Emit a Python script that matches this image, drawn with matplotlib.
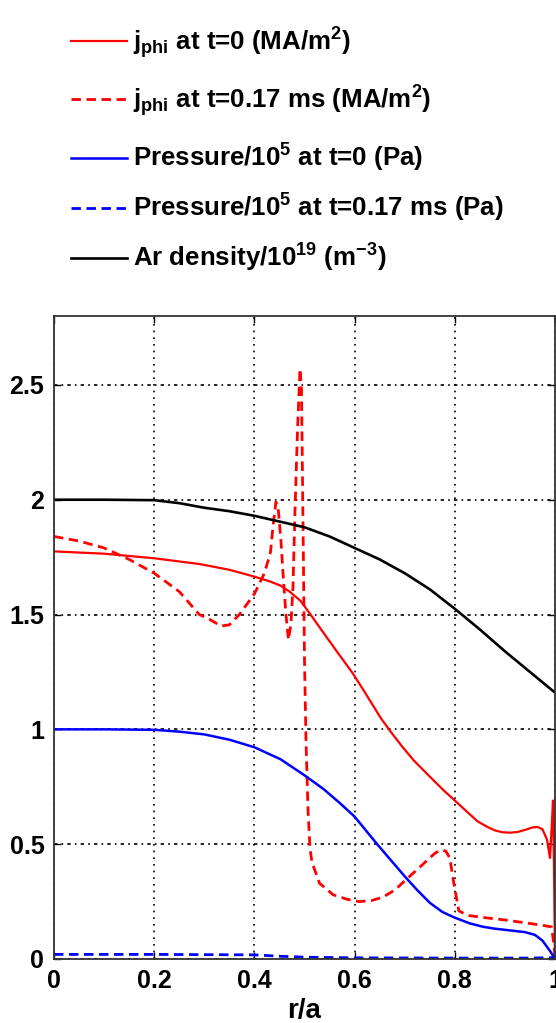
import matplotlib
matplotlib.use("Agg")
import matplotlib.pyplot as plt

# Radial profiles versus normalised minor radius r/a
r_j0 = [0.0, 0.1, 0.2, 0.29, 0.35, 0.4, 0.43, 0.452, 0.47, 0.492, 0.512, 0.538,
        0.566, 0.596, 0.618, 0.652, 0.672, 0.695, 0.718, 0.752, 0.775, 0.8, 0.82,
        0.845, 0.865, 0.88, 0.895, 0.91, 0.925, 0.94, 0.955, 0.965,
        0.975, 0.984, 0.99, 0.994, 0.996, 0.998, 1.0]
j_t0 = [1.775, 1.765, 1.745, 1.72, 1.695, 1.665, 1.645, 1.626, 1.60, 1.56, 1.50, 1.42,
        1.335, 1.245, 1.17, 1.05, 0.99, 0.925, 0.865, 0.79, 0.74, 0.69, 0.65,
        0.60, 0.575, 0.56, 0.552, 0.55, 0.553, 0.562, 0.573, 0.575,
        0.565, 0.52, 0.44, 0.60, 0.69, 0.40, 0.0]

r_j1 = [0.0, 0.05, 0.1, 0.15, 0.2, 0.25, 0.29, 0.31, 0.333, 0.35, 0.37, 0.39, 0.40,
        0.42, 0.432, 0.438, 0.443, 0.448, 0.453, 0.458, 0.463, 0.468, 0.473, 0.477,
        0.481, 0.486, 0.491, 0.494, 0.497, 0.500, 0.503, 0.507, 0.511, 0.515, 0.53,
        0.557, 0.585, 0.61, 0.635, 0.657, 0.68, 0.70, 0.725, 0.745, 0.76, 0.772, 0.782,
        0.79, 0.798, 0.808, 0.825, 0.86, 0.90, 0.965, 0.993, 0.998, 1.0]
j_t1 = [1.84, 1.82, 1.79, 1.74, 1.68, 1.60, 1.50, 1.48, 1.45, 1.455, 1.50, 1.56, 1.59,
        1.68, 1.77, 1.90, 1.99, 1.95, 1.82, 1.65, 1.50, 1.39, 1.46, 1.62,
        1.95, 2.30, 2.57, 2.48, 1.90, 1.30, 0.95, 0.65, 0.48, 0.42, 0.33,
        0.28, 0.26, 0.25, 0.255, 0.27, 0.30, 0.34, 0.39, 0.43, 0.46, 0.475, 0.47,
        0.44, 0.33, 0.21, 0.19, 0.18, 0.17, 0.15, 0.14, 0.06, 0.0]

r_p = [0.0, 0.1, 0.2, 0.25, 0.3, 0.35, 0.4, 0.452, 0.5, 0.538, 0.57, 0.6, 0.645, 0.7,
       0.725, 0.75, 0.775, 0.8, 0.83, 0.857, 0.88, 0.9, 0.94, 0.96, 0.975, 0.99, 1.0]
p_t0 = [1.0, 1.0, 0.998, 0.99, 0.978, 0.955, 0.922, 0.87, 0.80, 0.74, 0.68, 0.62, 0.50,
        0.36, 0.30, 0.245, 0.205, 0.18, 0.155, 0.14, 0.132, 0.127, 0.117, 0.105, 0.08,
        0.035, 0.0]

r_p1 = [0.0, 0.2, 0.4, 0.45, 0.5, 0.6, 0.8, 0.95, 1.0]
p_t1 = [0.02, 0.02, 0.018, 0.012, 0.008, 0.005, 0.004, 0.004, 0.006]

r_ar = [0.0, 0.1, 0.2, 0.25, 0.3, 0.35, 0.4, 0.45, 0.5, 0.55, 0.6, 0.65, 0.7, 0.75,
        0.8, 0.85, 0.9, 0.95, 1.0]
n_ar = [2.0, 2.0, 1.998, 1.985, 1.965, 1.95, 1.93, 1.905, 1.88, 1.84, 1.79, 1.74,
        1.68, 1.61, 1.525, 1.435, 1.34, 1.25, 1.16]

labels = [r"j$_{\mathrm{phi}}$ at t=0 (MA/m$^{\mathrm{2}}$)",
          r"j$_{\mathrm{phi}}$ at t=0.17 ms (MA/m$^{\mathrm{2}}$)",
          r"Pressure/10$^{\mathrm{5}}$ at t=0 (Pa)",
          r"Pressure/10$^{\mathrm{5}}$ at t=0.17 ms (Pa)",
          r"Ar density/10$^{\mathrm{19}}$ (m$^{-\mathrm{3}}$)"]

x_ticks = [0, 0.2, 0.4, 0.6, 0.8, 1.0]
x_ticklabels = ["0", "0.2", "0.4", "0.6", "0.8", "1"]
y_ticks = [0, 0.5, 1.0, 1.5, 2.0, 2.5]
y_ticklabels = ["0", "0.5", "1", "1.5", "2", "2.5"]

plt.rcParams["font.family"] = ["Liberation Sans", "DejaVu Sans"]
plt.rcParams["font.weight"] = "bold"
plt.rcParams["mathtext.fontset"] = "custom"
plt.rcParams["mathtext.rm"] = "Liberation Sans:bold"
plt.rcParams["mathtext.bf"] = "Liberation Sans:bold"
plt.rcParams["mathtext.it"] = "Liberation Sans:bold"
plt.rcParams["mathtext.default"] = "rm"

W, H = 556, 1023
fig = plt.figure(figsize=(W / 100, H / 100), dpi=100)
ax = fig.add_axes([54 / W, 64 / H, 501 / W, 643 / H])

dash = (3.4, 2.0)
lines = []
lines += ax.plot(r_j0, j_t0, color="#ff0000", lw=1.6)
lines += ax.plot(r_j1, j_t1, color="#ff0000", lw=2.0, dashes=dash)
lines += ax.plot(r_p, p_t0, color="#0000ff", lw=1.8)
lines += ax.plot(r_p1, p_t1, color="#0000ff", lw=2.0, dashes=dash)
lines += ax.plot(r_ar, n_ar, color="black", lw=1.9)

ax.set_xlim(0, 1)
ax.set_ylim(0, 2.8)
ax.set_xticks(x_ticks)
ax.set_xticklabels(x_ticklabels)
ax.set_yticks(y_ticks)
ax.set_yticklabels(y_ticklabels)
ax.tick_params(direction="in", top=True, right=True, length=5, width=1,
               labelsize=18, pad=7)
for lab in ax.get_xticklabels() + ax.get_yticklabels():
    lab.set_fontweight("bold")
for s in ax.spines.values():
    s.set_linewidth(1.3)
    s.set_color("#333333")

ax.xaxis.grid(True, color="black", lw=1.2, linestyle=(0, (1, 3)))
ax.yaxis.grid(True, color="black", lw=1.2, linestyle=(0, (2, 2.5, 1, 2.5)))
ax.set_axisbelow(True)

ax.set_xlabel("r/a", fontsize=20, fontweight="bold", labelpad=4)

# one legend row per curve, stacked above the axes
row_y = [43, 101, 158, 208, 258]
for ln, lab, yc in zip(lines, labels, row_y):
    fig.legend([ln], [lab], loc="center left",
               bbox_to_anchor=(71 / W, 1 - yc / H),
               frameon=False, handlelength=2.15, handletextpad=0.25,
               borderpad=0, borderaxespad=0,
               prop={"size": 18.6, "weight": "bold"})

fig.savefig("out.png", dpi=100)
